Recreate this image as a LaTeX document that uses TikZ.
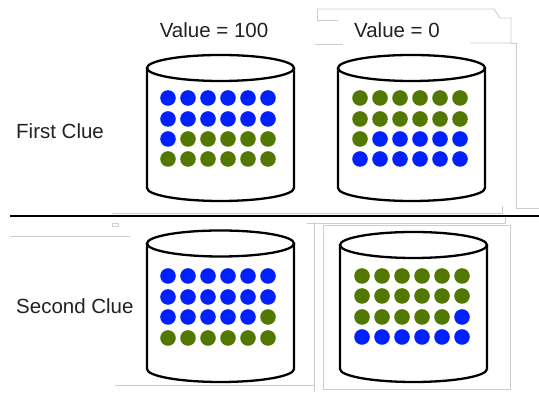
\documentclass[tikz,border=0pt]{standalone}
\usepackage{fontspec}
\setmainfont{Liberation Sans}
\definecolor{dotblue}{RGB}{0,32,255}
\definecolor{dotgreen}{RGB}{82,120,0}
\definecolor{ghost}{RGB}{205,205,205}
\definecolor{txt}{RGB}{34,34,34}

% one tank: #1 left x, #2 right x, #3 lid centre y, #4 base centre y, #5 ellipse half-height
\newcommand{\tank}[5]{%
  \draw[tankline] (#1,#3) -- (#1,#4)
    arc[start angle=180,end angle=360,x radius={(#2-#1)/2},y radius=#5] -- (#2,#3);
  \draw[tankline] ({(#1+#2)/2},#3) ellipse[x radius={(#2-#1)/2},y radius=#5];
}
% one row of six balls: #1 first x, #2 y, #3 colour list
\newcommand{\ballrow}[3]{%
  \foreach \c [count=\i from 0] in {#3}
    \fill[fill=\c] ({#1+20*\i},#2) circle[radius=7.8];
}

\tikzset{
  tankline/.style={line width=2.3pt,black},
  label/.style={inner sep=0pt,text=txt,font=\fontsize{20.5}{24}\selectfont},
  faint/.style={draw=ghost,line width=0.9pt},
}

\begin{document}
\begin{tikzpicture}[x=1pt,y=1pt]
\useasboundingbox (0,0) rectangle (539,395);
\fill[white] (0,0) rectangle (539,395);

% faint leftover frames
\draw[faint] (317,386) -- (494,386) -- (500,377) -- (511,377) -- (511,352) -- (470,352);
\draw[faint] (317,386) -- (317,375) -- (338,375);
\draw[faint] (315,351) -- (343,351);
\draw[faint] (511,352) -- (516,352) -- (516,187) -- (539,187);
\draw[faint] (112,182) -- (502,182) -- (502,189);
\draw[faint] (307,172) -- (505,172) -- (505,178);
\draw[faint] (10,159) -- (130,159);
\draw[faint] (112,169) rectangle (118,172);
\draw[faint] (323,170) rectangle (510,6);
\draw[faint] (314,173) -- (314,3);
\draw[faint] (115,10) -- (314,10);

% separator between the two clues
\draw[line width=2.2pt] (10,179) -- (539,179);

% labels
\node[label] (v1) at (214,365) {Value = 100};
\node[label] (v0) at (397,365) {Value = 0};
\node[label,anchor=west] (c1) at (16,264) {First Clue};
\node[label,anchor=west] (c2) at (16,89) {Second Clue};

% first clue, left tank
\tank{147}{294}{327}{207}{13}
\ballrow{168}{297}{dotblue,dotblue,dotblue,dotblue,dotblue,dotblue}
\ballrow{168}{276}{dotblue,dotblue,dotblue,dotblue,dotblue,dotblue}
\ballrow{168}{256}{dotblue,dotgreen,dotgreen,dotgreen,dotgreen,dotgreen}
\ballrow{168}{236}{dotgreen,dotgreen,dotgreen,dotgreen,dotgreen,dotgreen}

% first clue, right tank
\tank{338}{485}{327}{207}{13}
\ballrow{360}{297}{dotgreen,dotgreen,dotgreen,dotgreen,dotgreen,dotgreen}
\ballrow{360}{276}{dotgreen,dotgreen,dotgreen,dotgreen,dotgreen,dotgreen}
\ballrow{360}{256}{dotgreen,dotblue,dotblue,dotblue,dotblue,dotblue}
\ballrow{360}{236}{dotblue,dotblue,dotblue,dotblue,dotblue,dotblue}

% second clue, left tank
\tank{147}{294}{151.5}{26}{13}
\ballrow{168}{119}{dotblue,dotblue,dotblue,dotblue,dotblue,dotblue}
\ballrow{168}{98}{dotblue,dotblue,dotblue,dotblue,dotblue,dotblue}
\ballrow{168}{78}{dotblue,dotblue,dotblue,dotblue,dotblue,dotgreen}
\ballrow{168}{57}{dotgreen,dotgreen,dotgreen,dotgreen,dotgreen,dotgreen}

% second clue, right tank
\tank{340}{487}{150}{26}{13}
\ballrow{362}{119}{dotgreen,dotgreen,dotgreen,dotgreen,dotgreen,dotgreen}
\ballrow{362}{99}{dotgreen,dotgreen,dotgreen,dotgreen,dotgreen,dotgreen}
\ballrow{362}{78}{dotgreen,dotgreen,dotgreen,dotgreen,dotgreen,dotblue}
\ballrow{362}{58}{dotblue,dotblue,dotblue,dotblue,dotblue,dotblue}
\end{tikzpicture}
\end{document}
